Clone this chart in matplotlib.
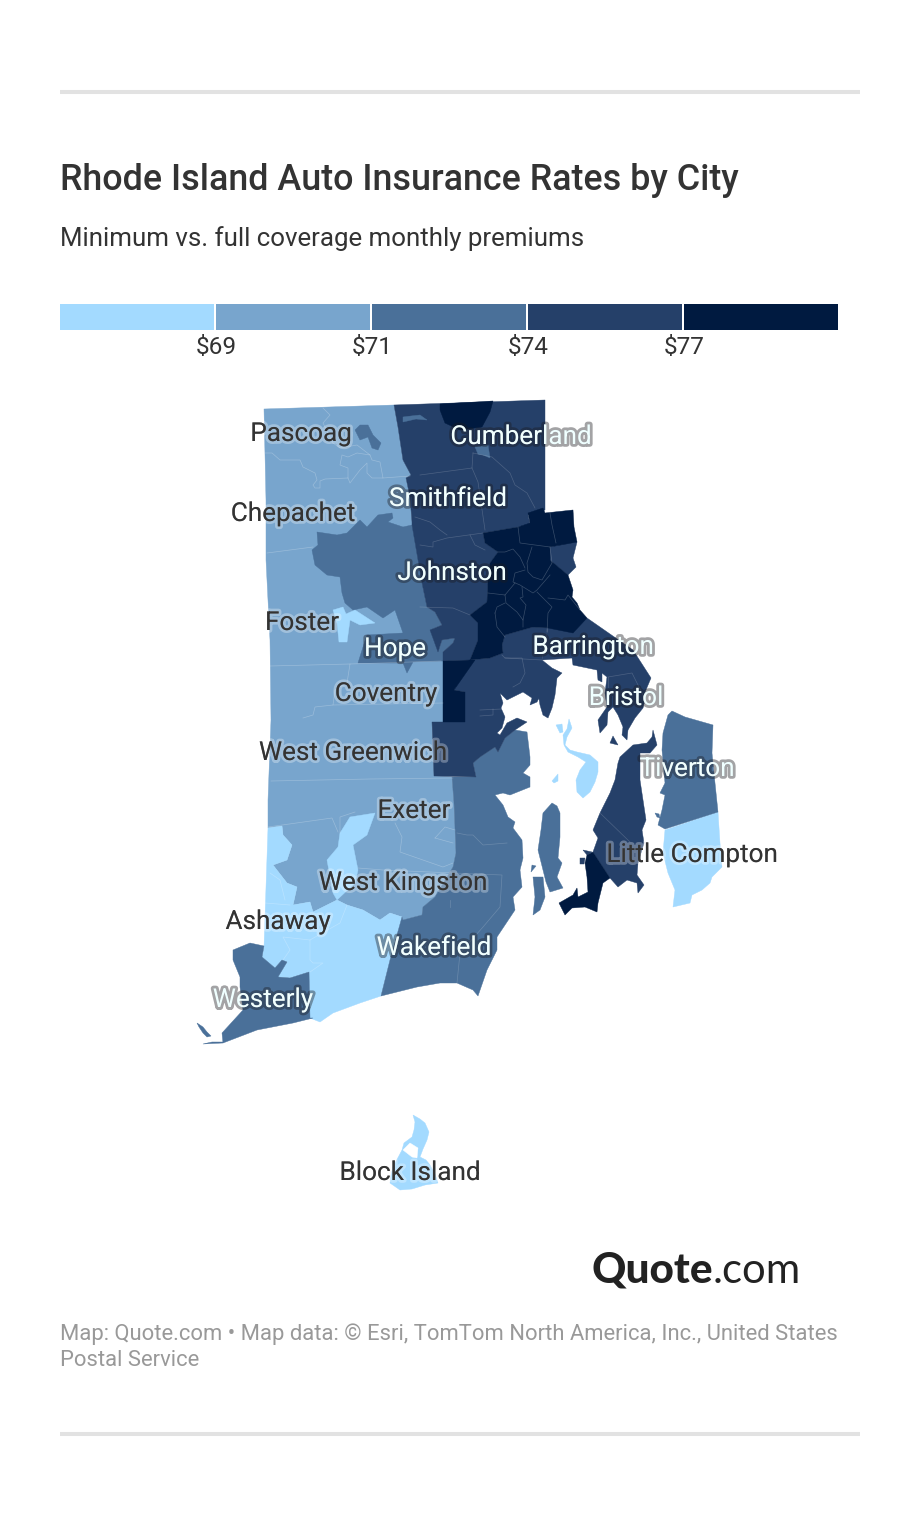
import matplotlib
matplotlib.use("Agg")
import matplotlib.pyplot as plt
import matplotlib.patheffects as pe
from matplotlib.patches import Polygon, Rectangle

plt.rcParams['font.family'] = ['Roboto', 'DejaVu Sans']

# legend
LEGEND_COLORS = ['#a3daff', '#78a5cd', '#4a7099', '#254069', '#001a40']
LEGEND_TICKS = ['$69', '$71', '$74', '$77']

# buckets
C0, C1, C2, C3, C4 = LEGEND_COLORS

# map shapes
west_rural = [(264, 409), (394, 405), (398, 427), (403, 460), (411, 475), (406, 478), (410, 497), (412, 522), (418, 560),
              (425, 600), (432, 625), (443, 660), (443, 722), (432, 722), (434, 776), (452, 777), (454, 803), (456, 853),
              (453, 867), (435, 897), (423, 907), (422, 915), (403, 920), (402, 917), (390, 913), (380, 920), (363, 910),
              (347, 905), (337, 900), (323, 907), (313, 912), (310, 902), (293, 905), (297, 887), (287, 883), (273, 865),
              (287, 860), (292, 845), (283, 835), (282, 826), (268, 828), (268, 800), (271, 720), (270, 640), (266, 560),
              (266, 500)]
south_light = [(268, 828), (282, 826), (283, 835), (292, 845), (287, 860), (273, 865), (287, 883), (297, 887), (293, 905),
               (310, 902), (313, 912), (323, 907), (337, 900), (347, 905), (363, 910), (380, 920), (390, 913), (402, 917),
               (390, 960), (381, 996), (360, 1003), (333, 1013), (320, 1022), (310, 1018), (309, 972), (290, 978),
               (278, 977), (287, 962), (282, 960), (275, 968), (262, 957), (264, 947)]
exeter_strip = [(350, 817), (375, 813), (367, 835), (353, 845), (358, 870), (355, 883), (337, 900), (333, 893), (327, 860),
                (338, 847), (340, 833)]
foster_pond = [(333, 610), (343, 607), (346, 614), (355, 610), (375, 623), (360, 625), (350, 620), (347, 642), (339, 642),
               (337, 623)]
little_compton = [(718, 812), (720, 843), (722, 867), (712, 877), (710, 883), (702, 890), (692, 895), (690, 903), (673, 907),
                  (675, 890), (668, 873), (663, 853), (665, 830)]
block_island = [(413, 1115), (420, 1119), (425, 1123), (429, 1132), (427, 1140), (423, 1149), (420, 1157), (426, 1160),
                (430, 1165), (435, 1174), (438, 1183), (425, 1185), (412, 1189), (400, 1190), (390, 1183), (391, 1175),
                (393, 1167), (402, 1150), (404, 1143), (412, 1137), (414, 1130), (415, 1122)]
prudence = [(569, 719), (572, 728), (567, 737), (565, 745), (570, 750), (577, 752), (590, 755), (598, 762), (598, 772),
            (595, 782), (590, 792), (583, 798), (577, 792), (576, 780), (580, 770), (586, 762), (578, 757), (568, 752),
            (564, 745), (563, 735), (567, 729)]
patience = [(556, 725), (562, 724), (563, 732), (560, 733)]
hope_isle = [(552, 781), (558, 774), (558, 781), (554, 783)]

johnston = [(317, 532), (337, 535), (347, 533), (360, 520), (367, 527), (378, 515), (392, 513), (393, 518), (388, 522),
            (403, 527), (412, 525), (422, 583), (427, 607), (435, 612), (442, 625), (430, 630), (438, 652), (442, 640),
            (455, 638), (453, 643), (443, 652), (443, 661), (413, 662), (407, 673), (403, 663), (358, 663), (363, 647),
            (367, 635), (403, 633), (395, 610), (383, 618), (367, 607), (353, 610), (345, 603), (342, 593), (340, 577),
            (327, 575), (315, 565), (312, 550), (318, 545)]
washington = [(452, 777), (476, 777), (473, 763), (480, 757), (495, 747), (498, 752), (505, 738), (515, 730), (527, 732),
              (530, 757), (530, 765), (523, 773), (530, 777), (530, 787), (510, 795), (503, 793), (495, 795), (503, 805),
              (508, 817), (515, 822), (513, 828), (522, 840), (523, 858), (520, 870), (522, 887), (513, 897), (515, 910),
              (497, 937), (497, 950), (487, 970), (478, 996), (473, 990), (457, 983), (440, 983), (417, 987), (381, 996),
              (390, 960), (402, 917), (403, 920), (422, 915), (423, 907), (435, 897), (453, 867), (456, 853), (454, 803)]
westerly = [(264, 946), (250, 943), (233, 950), (233, 960), (240, 977), (240, 987), (243, 1010), (222, 1033), (223, 1043),
            (257, 1030), (293, 1023), (313, 1018), (310, 1018), (309, 972), (290, 978), (278, 977), (287, 962), (282, 960),
            (275, 968), (262, 957)]
westerly_tip = [(197, 1023), (203, 1027), (207, 1032), (211, 1036), (207, 1037), (203, 1033), (199, 1027)]
westerly_spit = [(203, 1044), (212, 1042), (223, 1042), (223, 1043), (212, 1043.5)]
tiverton = [(672, 711), (685, 717), (713, 725), (712, 753), (715, 783), (718, 812), (665, 829), (658, 825), (662, 810),
            (665, 795), (660, 793), (665, 783), (662, 750), (663, 733), (668, 715)]
tiverton_dot = [(655, 813), (659, 814), (660, 818), (657, 817)]
conanicut = [(552, 803), (557, 806), (560, 813), (560, 837), (558, 858), (562, 863), (557, 877), (563, 888), (550, 892),
             (546, 882), (543, 870), (538, 850), (541, 830), (543, 813)]
dutch_isle = [(533, 877), (543, 877), (545, 897), (540, 910), (533, 915), (535, 897)]
gould_isle = [(532, 865), (536, 866), (531, 872)]
pascoag_pond = [(355, 430), (360, 425), (368, 425), (373, 435), (381, 443), (378, 450), (372, 448), (368, 437), (360, 440)]
cumberland_pond = [(475, 447), (488, 445), (490, 458), (483, 455), (478, 454)]
north_pond = [(403, 417), (411, 416), (420, 415), (427, 420), (416, 419), (403, 422)]

north_band = [(394, 405), (545, 400), (545, 510), (528, 515), (530, 524), (518, 527), (483, 533), (485, 543), (498, 552),
              (490, 563), (488, 580), (487, 602), (470, 615), (478, 623), (478, 640), (470, 660), (443, 661), (443, 652),
              (453, 643), (455, 638), (442, 640), (438, 652), (430, 630), (442, 625), (435, 612), (427, 607), (422, 583),
              (412, 525), (412, 522), (410, 497), (406, 478), (411, 475), (403, 460), (398, 427)]
warwick = [(470, 660), (490, 658), (503, 653), (502, 645), (505, 635), (533, 627), (548, 628), (542, 660), (552, 668),
           (562, 673), (557, 678), (555, 695), (552, 708), (548, 718), (543, 715), (540, 705), (538, 693), (543, 690),
           (537, 702), (530, 705), (532, 698), (523, 692), (507, 700), (500, 693), (503, 703), (501, 708), (505, 717),
           (502, 728), (497, 733), (500, 735), (507, 723), (517, 718), (527, 722), (515, 730), (505, 738), (498, 752),
           (495, 747), (480, 757), (473, 763), (476, 777), (434, 776), (432, 722), (465, 722), (465, 692), (454, 690)]
east_bay = [(548, 628), (587, 618), (633, 650), (651, 678), (643, 697), (645, 700), (643, 708), (635, 718), (628, 730),
            (627, 740), (622, 735), (623, 727), (618, 715), (613, 707), (608, 712), (607, 725), (600, 733), (598, 720),
            (607, 707), (605, 693), (607, 677), (602, 673), (602, 682), (598, 680), (597, 670), (573, 665), (572, 658),
            (542, 660)]
east_prov = [(550, 547), (572, 542), (577, 542), (573, 558), (576, 567), (568, 575), (550, 560)]
aquidneck = [(653, 730), (657, 745), (650, 753), (640, 753), (640, 780), (643, 800), (646, 820), (642, 830), (644, 843),
             (638, 863), (637, 875), (644, 885), (638, 893), (637, 883), (627, 880), (618, 887), (610, 878), (593, 852),
             (598, 838), (593, 830), (600, 813), (610, 793), (615, 780), (618, 763), (620, 757), (633, 745), (647, 743),
             (652, 737)]
rock_isle = [(613, 736), (618, 745), (610, 743)]
bay_dot = [(580, 858), (585, 858), (584, 864), (580, 864)]
sakonnet_tip = [(583, 850), (592, 852), (587, 855)]

north_cap = [(440, 410), (440, 404), (493, 401), (490, 412), (482, 427), (460, 430), (445, 423)]
providence = [(483, 533), (518, 527), (530, 523), (528, 513), (543, 508), (545, 513), (573, 510), (574, 527), (577, 542),
              (550, 547), (550, 560), (568, 575), (573, 590), (572, 597), (577, 603), (580, 610), (587, 618), (573, 633),
              (548, 628), (533, 627), (505, 635), (502, 645), (503, 653), (490, 658), (470, 660), (478, 640), (478, 623),
              (470, 615), (487, 602), (488, 580), (490, 563), (498, 552), (485, 543)]
cranston_strip = [(443, 661), (470, 660), (475, 660), (454, 690), (465, 692), (465, 722), (443, 722)]
newport = [(593, 852), (610, 878), (603, 883), (598, 903), (597, 912), (585, 907), (572, 908), (565, 915), (559, 903),
           (573, 895), (577, 888), (578, 897), (588, 892), (587, 877), (585, 863), (587, 855)]

# small shapes left white on top of the island
block_pond = [(403, 1150), (410, 1143), (418, 1148), (417, 1158), (412, 1157)]

# town borders, faint lines
borders_light = [
    [(267, 553), (313, 547)],
    [(270, 666), (350, 664), (441, 661)],
    [(350, 664), (347, 683), (335, 690), (333, 705), (315, 707), (313, 715), (303, 718)],
    [(333, 705), (443, 703)],
    [(271, 781), (370, 779), (453, 778)],
    [(268, 827), (332, 818), (338, 832)],
    [(340, 833), (340, 817), (355, 812)],
    [(265, 453), (272, 453), (280, 460), (300, 460), (303, 467), (315, 473), (317, 480), (313, 485), (315, 488), (320, 488),
     (320, 481), (325, 479), (348, 478), (350, 483), (360, 470), (367, 463), (367, 473), (372, 478), (383, 478), (380, 462),
     (372, 460), (370, 455), (357, 453), (348, 457), (342, 455), (340, 465), (348, 468), (348, 478)],
    [(323, 408), (330, 415), (323, 423), (333, 443), (340, 448), (357, 445), (370, 455)],
    [(383, 478), (410, 476)],
    [(395, 823), (402, 837), (400, 852), (443, 867), (453, 863)],
    [(435, 838), (445, 827), (455, 830)],
    [(435, 838), (453, 843)],
    [(358, 868), (383, 870), (453, 873)],
    [(265, 903), (290, 905)],
    [(270, 873), (280, 880), (285, 900)],
    [(347, 905), (340, 923), (310, 940), (283, 937), (290, 950), (283, 960)],
    [(310, 940), (310, 960), (313, 963), (323, 963), (310, 972)],
]
borders_dark = [
    [(420, 475), (472, 468), (473, 453)],
    [(472, 468), (478, 482), (485, 530)],
    [(473, 453), (492, 457), (510, 473), (515, 485), (527, 493), (535, 508)],
    [(420, 545), (433, 547), (433, 542), (447, 538), (483, 533)],
    [(415, 517), (430, 522), (440, 530), (447, 535)],
    [(470, 535), (475, 545), (485, 550)],
    [(420, 607), (453, 608), (470, 615)],
    # warwick side
    [(502, 655), (505, 658), (522, 658), (525, 673), (520, 683), (513, 687)],
    [(505, 658), (542, 660)],
    [(480, 710), (502, 709)],
    [(493, 709), (493, 715), (480, 716)],
    # east bay
    [(608, 677), (632, 673), (637, 683), (643, 695)],
    [(608, 677), (608, 687)],
    # aquidneck
    [(600, 813), (630, 842)],
    # south county
    [(457, 833), (467, 835), (473, 835), (483, 845), (507, 843)],
    [(453, 873), (502, 875), (500, 907), (483, 927), (460, 953), (457, 983)],
    [(450, 900), (450, 907)],
]
# inside the dark core
borders_core = [
    [(518, 527), (520, 543), (550, 547)],
    [(550, 513), (552, 525), (556, 543)],
    [(498, 552), (505, 552), (513, 549), (520, 557), (525, 568)],
    [(532, 547), (527, 563), (528, 572), (533, 577), (542, 580), (552, 563), (550, 547)],
    [(525, 570), (515, 573), (513, 582), (520, 585), (533, 593), (537, 590), (550, 575)],
    [(515, 583), (505, 595), (488, 593)],
    [(505, 595), (506, 603), (517, 612), (523, 620), (523, 627)],
    [(495, 613), (497, 607), (505, 603)],
    [(495, 613), (497, 627), (505, 637)],
    [(522, 587), (523, 597), (520, 598), (526, 605), (523, 620)],
    [(537, 592), (552, 607), (548, 613), (547, 632)],
    [(548, 598), (565, 600), (568, 595), (580, 610)],
]

# (name, x, y, light text?)
city_names = ['Pascoag', 'Cumberland', 'Smithfield', 'Chepachet', 'Johnston', 'Foster', 'Hope', 'Barrington', 'Coventry',
              'Bristol', 'West Greenwich', 'Tiverton', 'Exeter', 'Little Compton', 'West Kingston', 'Ashaway', 'Wakefield',
              'Westerly', 'Block Island']
city_x = [301, 521, 448, 293, 452, 302, 395, 593, 386, 626, 353, 687, 414, 692, 403, 278, 434, 263, 410]
city_y = [434, 437, 499, 514, 573, 623, 649, 647, 694, 698, 753, 769, 811, 855, 883, 922, 948, 1000, 1173]
city_light = [0, 1, 1, 0, 1, 0, 1, 1, 0, 1, 0, 1, 0, 0, 0, 0, 1, 1, 0]

fig = plt.figure(figsize=(9.2, 15.26), dpi=100)
ax = fig.add_axes([0, 0, 1, 1])
ax.set_xlim(0, 920)
ax.set_ylim(1526, 0)
ax.axis('off')

# rules top and bottom
for y in [92, 1434]:
    ax.plot([60, 860], [y, y], color='#e2e2e2', lw=2.9, solid_capstyle='butt')

ax.text(60, 181, 'Rhode Island Auto Insurance Rates by City', fontsize=25.85, fontweight='medium', color='#333333', va='center')
ax.text(60, 238.5, 'Minimum vs. full coverage monthly premiums', fontsize=18.67, color='#333333', va='center')

# legend bar
for i, c in enumerate(LEGEND_COLORS):
    ax.add_patch(Rectangle((60 + i * 156, 304), 154, 26, facecolor=c, edgecolor='none'))
for i, t in enumerate(LEGEND_TICKS):
    ax.text(216 + i * 156, 348, t, fontsize=17.6, color='#333333', ha='center', va='center')

# map, back to front
layers = [
    (west_rural, C1), (south_light, C0), (exeter_strip, C0), (foster_pond, C0), (little_compton, C0), (block_island, C0),
    (prudence, C0), (patience, C0), (hope_isle, C0),
    (johnston, C2), (washington, C2), (westerly, C2), (westerly_tip, C2), (westerly_spit, C2), (tiverton, C2),
    (tiverton_dot, C2), (conanicut, C2), (dutch_isle, C2), (gould_isle, C2), (pascoag_pond, C2),
    (north_band, C3), (warwick, C3), (east_bay, C3), (east_prov, C3), (aquidneck, C3), (rock_isle, C3), (bay_dot, C3),
    (sakonnet_tip, C3), (cumberland_pond, C2), (north_pond, C2),
    (north_cap, C4), (providence, C4), (cranston_strip, C4), (newport, C4),
    (block_pond, 'white'),
]
for pts, c in layers:
    ax.add_patch(Polygon(pts, closed=True, facecolor=c, edgecolor=c, lw=0.3))

for line in borders_light:
    ax.plot(*zip(*line), color='white', lw=0.5, alpha=0.25)
for line in borders_dark:
    ax.plot(*zip(*line), color='white', lw=0.5, alpha=0.18)
for line in borders_core:
    ax.plot(*zip(*line), color='white', lw=0.5, alpha=0.22)

# city labels
for name, x, y, light in zip(city_names, city_x, city_y, city_light):
    if light:
        ax.text(x, y, name, fontsize=18.8, color='#f0ffff', ha='center', va='center',
                path_effects=[pe.withStroke(linewidth=4, foreground=(0.1, 0.1, 0.12, 0.4))])
    else:
        ax.text(x, y, name, fontsize=18.8, color='#333333', ha='center', va='center',
                path_effects=[pe.withStroke(linewidth=4, foreground=(1, 1, 1, 0.3))])

# logo
ax.text(592, 1271, 'Quote', fontsize=30.5, family=['Lato', 'DejaVu Sans'], fontweight='black', color='#222222', va='center')
ax.text(713, 1271, '.com', fontsize=30.2, family=['Lato', 'DejaVu Sans'], fontweight='normal', color='#222222', va='center')

# source
ax.text(60, 1334.5, 'Map: Quote.com \u2022 Map data: \u00a9 Esri, TomTom North America, Inc., United States', fontsize=15.8, color='#999999', va='center')
ax.text(60, 1360.5, 'Postal Service', fontsize=15.8, color='#999999', va='center')

fig.savefig('out.png', dpi=100)
